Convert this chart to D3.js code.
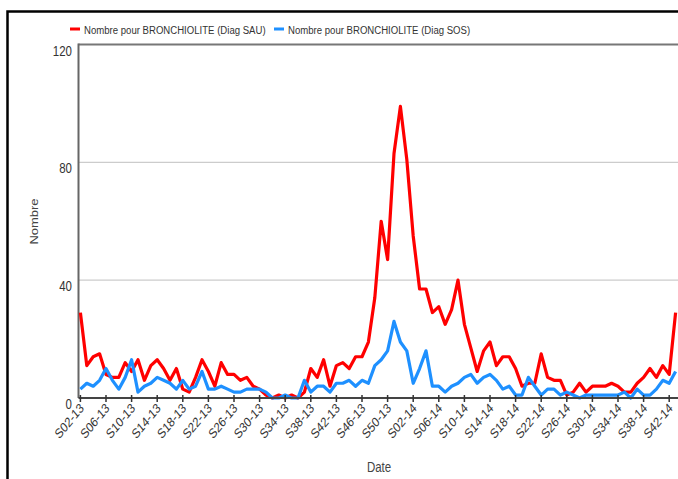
<!DOCTYPE html>
<html><head><meta charset="utf-8">
<script src="https://cdn.jsdelivr.net/npm/d3@7"></script>
<style>body{margin:0;background:#fff}svg{display:block}text{font-family:Arial,"Liberation Sans",sans-serif}</style>
</head><body><svg id="c" width="678" height="479"></svg>
<script>
const weeks = ["S02-13","S03-13","S04-13","S05-13","S06-13","S07-13","S08-13","S09-13","S10-13","S11-13","S12-13","S13-13","S14-13","S15-13","S16-13","S17-13","S18-13","S19-13","S20-13","S21-13","S22-13","S23-13","S24-13","S25-13","S26-13","S27-13","S28-13","S29-13","S30-13","S31-13","S32-13","S33-13","S34-13","S35-13","S36-13","S37-13","S38-13","S39-13","S40-13","S41-13","S42-13","S43-13","S44-13","S45-13","S46-13","S47-13","S48-13","S49-13","S50-13","S51-13","S52-13","S01-14","S02-14","S03-14","S04-14","S05-14","S06-14","S07-14","S08-14","S09-14","S10-14","S11-14","S12-14","S13-14","S14-14","S15-14","S16-14","S17-14","S18-14","S19-14","S20-14","S21-14","S22-14","S23-14","S24-14","S25-14","S26-14","S27-14","S28-14","S29-14","S30-14","S31-14","S32-14","S33-14","S34-14","S35-14","S36-14","S37-14","S38-14","S39-14","S40-14","S41-14","S42-14","S43-14"];
const sau = [29,11,14,15,8,7,7,12,9,13,6,11,13,10,6,10,3,2,7,13,9,4,12,8,8,6,7,4,3,1,0,1,0,1,0,2,10,7,13,4,11,12,10,14,14,19,34,60,47,83,99,81,55,37,37,29,31,25,30,40,25,17,9,16,19,11,14,14,10,4,5,5,15,7,6,6,1,2,5,2,4,4,4,5,4,2,2,5,7,10,7,11,8,29];
const sos = [3,5,4,6,10,6,3,7,13,2,4,5,7,6,5,3,6,3,4,9,3,3,4,3,2,2,3,3,3,2,0,0,1,0,0,6,2,4,4,2,5,5,6,4,6,5,11,13,16,26,19,16,5,10,16,4,4,2,4,5,7,8,5,7,8,6,3,4,1,1,7,4,1,3,3,1,2,1,0,1,1,1,1,1,1,2,0,3,1,1,3,6,5,9];
const yTicks = [0,40,80,120];
const seriesNames = ["Nombre pour BRONCHIOLITE (Diag SAU)","Nombre pour BRONCHIOLITE (Diag SOS)"];
const seriesColors = ["#ff0000","#1e90ff"];
const xTitle = "Date", yTitle = "Nombre";

const SX = 0.82;
const svg = d3.select("#c");
const pLeft = 78.5, pTop = 44.5, pBottom = 398, pRight = 678;
const x = d3.scalePoint().domain(weeks).range([80.4, 675.6]);
const y = d3.scaleLinear().domain([0,120]).range([pBottom, pTop]);

// outer frame
svg.append("path").attr("d",`M7.5,479V11.5H678`).attr("fill","none").attr("stroke","#000").attr("stroke-width",2.5);

// gridlines
svg.append("g").selectAll("line").data(yTicks.filter(t=>t>0 && t<120)).join("line")
  .attr("x1",pLeft).attr("x2",pRight).attr("y1",d=>y(d)).attr("y2",d=>y(d))
  .attr("stroke","#cccccc").attr("stroke-width",1.2);
// top border
svg.append("line").attr("x1",pLeft).attr("x2",pRight).attr("y1",y(120)).attr("y2",y(120)).attr("stroke","#777").attr("stroke-width",2);
// left axis
svg.append("line").attr("x1",pLeft).attr("x2",pLeft).attr("y1",pTop-1).attr("y2",pBottom).attr("stroke","#666").attr("stroke-width",2);

// y labels
svg.append("g").selectAll("text").data(yTicks).join("text")
  .attr("transform",d=>`translate(72,${y(d)+11}) scale(${SX},1)`)
  .attr("text-anchor","end").attr("font-size",14).attr("fill","#333").text(d=>d);

// lines
const line = arr => d3.line().x((d,i)=>x(weeks[i])).y(d=>y(d))(arr);
[sau, sos].forEach((s,k)=>{
  svg.append("path").attr("d",line(s)).attr("fill","none").attr("stroke",seriesColors[k])
    .attr("stroke-width",3.2).attr("stroke-linejoin","round");
});

// x axis
svg.append("line").attr("x1",pLeft).attr("x2",pRight).attr("y1",pBottom).attr("y2",pBottom).attr("stroke","#444").attr("stroke-width",2);
const tickWeeks = weeks.filter((w,i)=>i%4===0);
svg.append("g").selectAll("line").data(tickWeeks).join("line")
  .attr("x1",d=>x(d)).attr("x2",d=>x(d)).attr("y1",pBottom-3).attr("y2",pBottom+4)
  .attr("stroke","#333").attr("stroke-width",1.5);
svg.append("g").selectAll("text").data(tickWeeks).join("text")
  .attr("transform",d=>`translate(${x(d)+1},405) scale(${SX},1) rotate(-45)`)
  .attr("text-anchor","end").attr("dy","0.4em").attr("font-size",13.5).attr("fill","#333").text(d=>d);

// titles
svg.append("text").attr("transform",`translate(379,472) scale(${SX},1)`).attr("text-anchor","middle")
  .attr("font-size",14).attr("fill","#444").text(xTitle);
svg.append("text").attr("transform",`translate(38,221.5) scale(${SX},1) rotate(-90)`).attr("text-anchor","middle")
  .attr("font-size",13).attr("fill","#444").text(yTitle);

// legend
const legX = [70, 274];
seriesNames.forEach((n,k)=>{
  svg.append("rect").attr("x",legX[k]).attr("y",27.5).attr("width",10).attr("height",3).attr("fill",seriesColors[k]);
  svg.append("text").attr("transform",`translate(${legX[k]+14},34) scale(${SX},1)`)
    .attr("font-size",11.7).attr("fill","#333").text(n);
});
</script></body></html>
